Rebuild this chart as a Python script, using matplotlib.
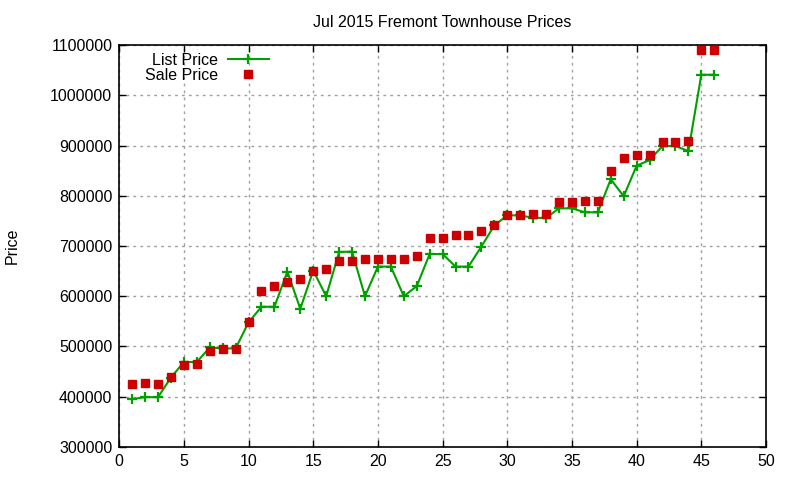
#!/usr/bin/env python3
"""Jul 2015 Fremont townhouse prices, list vs sale (gnuplot look)."""

import matplotlib
matplotlib.use('Agg')
import matplotlib.pyplot as plt
import numpy as np

homes = np.arange(1, 47)

list_price = [395000, 399000, 399000, 438000, 469000, 469000, 498000, 496000, 496000, 548000,
              579000, 579000, 649000, 575000, 651000, 600000, 688000, 689000, 600000, 659000,
              659000, 600000, 620000, 684000, 684000, 659000, 659000, 699000, 741000, 761000,
              761000, 756000, 756000, 775000, 775000, 767000, 767000, 833000, 799000, 860000,
              871000, 899000, 899000, 889000, 1041000, 1041000]

sale_price = [425000, 427000, 426000, 439000, 463000, 466000, 490000, 494000, 494000, 548000,
              611000, 621000, 629000, 635000, 651000, 655000, 670000, 670000, 675000, 675000,
              675000, 675000, 681000, 716000, 716000, 721000, 721000, 729000, 741000, 761000,
              761000, 763000, 763000, 788000, 788000, 789000, 789000, 850000, 875000, 881000,
              881000, 907000, 907000, 909000, 1090000, 1090000]

GREEN = '#00a000'
RED = '#cc0000'

plt.rcParams['font.family'] = ['Liberation Sans', 'DejaVu Sans']

fig = plt.figure(figsize=(8, 4.8), dpi=100)
ax = fig.add_axes([0.149, 0.069, 0.8085, 0.837])

ax.plot(homes, list_price, color=GREEN, linewidth=1.5, marker='+',
        markersize=7, markeredgewidth=1.6, label='List Price', zorder=3)
ax.plot(homes, sale_price, linestyle='none', marker='s', color=RED,
        markersize=6.4, label='Sale Price', zorder=4)

ax.set_xlim(0, 50)
ax.set_ylim(300000, 1100000)
ax.set_xticks(np.arange(0, 51, 5))
ax.set_yticks(np.arange(300000, 1100001, 100000))
ax.ticklabel_format(axis='y', style='plain', useOffset=False)

ax.tick_params(direction='in', length=5, width=1, top=True, right=True,
               labelsize=11.5, pad=5)
ax.grid(True, color='#a0a0a0', linestyle=(0, (2, 3)), linewidth=1)
for s in ax.spines.values():
    s.set_linewidth(1.2)

ax.set_title('Jul 2015 Fremont Townhouse Prices', fontsize=11.5, pad=13)
ax.set_ylabel('Price', fontsize=11.5, labelpad=22)

leg = ax.legend(loc='upper left', bbox_to_anchor=(0.03, 0.997), frameon=False,
                markerfirst=False, fontsize=11.5, handlelength=2.6,
                handletextpad=0.6, labelspacing=0.0, borderaxespad=0)

fig.savefig('out.png', dpi=100)
plt.close(fig)
print('Saved: out.png')
